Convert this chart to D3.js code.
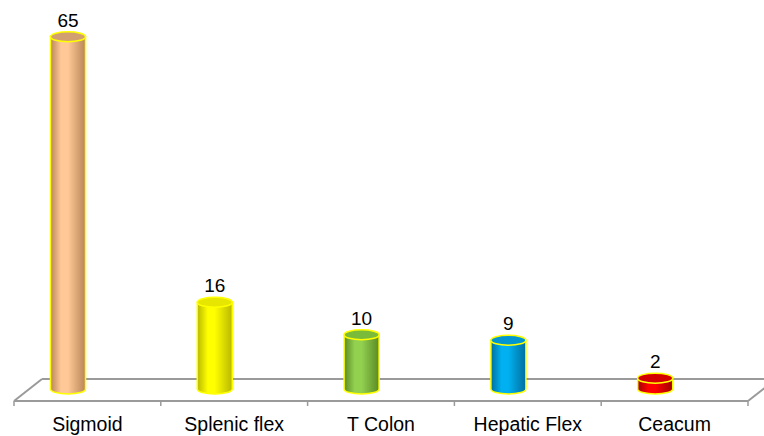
<!DOCTYPE html>
<html>
<head>
<meta charset="utf-8">
<script src="https://cdn.jsdelivr.net/npm/d3@7/dist/d3.min.js"></script>
<style>
  html, body { margin: 0; padding: 0; background: #fff; }
  svg { display: block; }
  text { font-family: "Liberation Sans", Arial, Helvetica, sans-serif; fill: #000; }
</style>
</head>
<body>
<svg id="chart" width="764" height="436"></svg>
<script>
// Tumour site distribution
const categories = ["Sigmoid", "Splenic flex", "T Colon", "Hepatic Flex", "Ceacum"];
const values = [65, 16, 10, 9, 2];
const bodyColors = ["#FFC896", "#FFFF00", "#92D050", "#00B0F0", "#FF0000"];
const edgeColors = ["#B98657", "#B8B800", "#5A8A25", "#006E9E", "#A00000"];
const topColors  = ["#D2A070", "#E6E600", "#7BBB3A", "#0096D2", "#D40000"];

const W = 764;
const svg = d3.select("#chart");

// floor geometry (front edge, back edge, depth shift)
const frontY = 401, backY = 379, depthX = 28;
const x = d3.scaleBand().domain(categories).range([14, 748]);
const y = d3.scaleLinear().domain([0, 65]).range([389, 36.7]);
const barShift = -19.4;   // cylinders sit mid-depth on the floor
const rx = 17.5, ry = 5;

const defs = svg.append("defs");
categories.forEach((c, i) => {
  const g = defs.append("linearGradient")
    .attr("id", "cyl" + i).attr("x1", "0%").attr("x2", "100%").attr("y1", "0%").attr("y2", "0%");
  g.append("stop").attr("offset", "0%").attr("stop-color", edgeColors[i]);
  g.append("stop").attr("offset", "30%").attr("stop-color", bodyColors[i]);
  g.append("stop").attr("offset", "50%").attr("stop-color", bodyColors[i]);
  g.append("stop").attr("offset", "100%").attr("stop-color", edgeColors[i]);
});

// floor
const floor = svg.append("g").attr("stroke", "#9a9a9a").attr("stroke-width", 2).attr("fill", "none");
floor.append("line").attr("x1", 14 + depthX).attr("y1", backY).attr("x2", W).attr("y2", backY);
floor.append("line").attr("x1", 14).attr("y1", frontY).attr("x2", 748).attr("y2", frontY);
floor.append("line").attr("x1", 14).attr("y1", frontY).attr("x2", 14 + depthX).attr("y2", backY);
floor.append("line").attr("x1", 748).attr("y1", frontY).attr("x2", 748 + depthX).attr("y2", backY);
const ticks = categories.map(c => x(c)).concat([x.range()[1]]);
floor.selectAll("line.tick").data(ticks).join("line").attr("class", "tick")
  .attr("x1", d => d).attr("x2", d => d).attr("y1", frontY).attr("y2", frontY + 5)
  .attr("stroke-width", 1.5);

// cylinders: body with rounded base, elliptical top, value above
const bars = svg.append("g").selectAll("g").data(categories).join("g");
bars.each(function(c, i) {
  const g = d3.select(this);
  const cx = x(c) + x.bandwidth() / 2 + barShift;
  const yTop = y(values[i]), yBase = y(0);
  const body = `M${cx - rx},${yTop} L${cx - rx},${yBase} A${rx},${ry} 0 0 0 ${cx + rx},${yBase} L${cx + rx},${yTop} Z`;
  g.append("path").attr("d", body)
    .attr("fill", `url(#cyl${i})`)
    .attr("stroke", "#FFFF00").attr("stroke-width", 1.5);
  g.append("ellipse").attr("cx", cx).attr("cy", yTop).attr("rx", rx).attr("ry", ry)
    .attr("fill", topColors[i]).attr("stroke", "#FFFF00").attr("stroke-width", 1.5);
  g.append("text").attr("x", cx).attr("y", yTop - ry - 5)
    .attr("text-anchor", "middle").attr("font-size", "19px").text(values[i]);
});

// category labels
svg.append("g").selectAll("text").data(categories).join("text")
  .attr("x", c => x(c) + x.bandwidth() / 2)
  .attr("y", 431)
  .attr("text-anchor", "middle")
  .attr("font-size", "19.5px")
  .text(c => c);
</script>
</body>
</html>
